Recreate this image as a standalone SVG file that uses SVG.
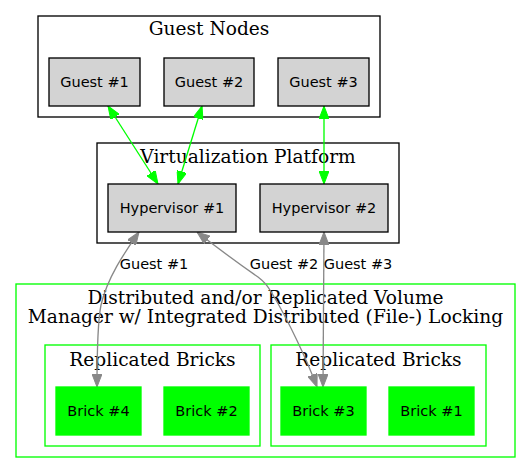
<svg xmlns="http://www.w3.org/2000/svg" width="531" height="473" viewBox="0 0 531 473">
<style>
.cl{fill:none;stroke:#000;stroke-width:1.33}
.clg{fill:none;stroke:#00ff00;stroke-width:1.33}
.ct{font-family:"DejaVu Serif",serif;font-size:18.6px;fill:#000;text-anchor:middle}
.n{fill:#d3d3d3;stroke:#000;stroke-width:1.33}
.b{fill:#00ff00;stroke:#00ff00;stroke-width:1.33}
.nt{font-family:"DejaVu Sans",sans-serif;font-size:14.5px;fill:#000;text-anchor:middle}
.eg{fill:none;stroke:#00ff00;stroke-width:1.33;marker-start:url(#ag);marker-end:url(#ag)}
.ey{fill:none;stroke:#888;stroke-width:1.33;marker-start:url(#ay);marker-end:url(#ay)}
</style>
<defs>
<marker id="ag" viewBox="0 0 13 10" refX="13" refY="5" markerWidth="13" markerHeight="10" markerUnits="userSpaceOnUse" orient="auto-start-reverse"><polygon points="0,0 13,5 0,10" fill="#00ff00" stroke="#00ff00"/></marker>
<marker id="ay" viewBox="0 0 13 10" refX="13" refY="5" markerWidth="13" markerHeight="10" markerUnits="userSpaceOnUse" orient="auto-start-reverse"><polygon points="0,0 13,5 0,10" fill="#888" stroke="#888"/></marker>
</defs>
<rect width="531" height="473" fill="#fff"/>
<g id="cluster_guests">
<rect class="cl" x="38" y="16" width="342" height="101"/>
<text class="ct" x="209" y="35">Guest Nodes</text>
</g>
<g id="cluster_virt">
<rect class="cl" x="97" y="143" width="302" height="100"/>
<text class="ct" x="248" y="163">Virtualization Platform</text>
</g>
<g id="cluster_volume">
<rect class="clg" x="16" y="284" width="499" height="173"/>
<text class="ct" x="265.5" y="304">Distributed and/or Replicated Volume</text>
<text class="ct" x="265.5" y="323">Manager w/ Integrated Distributed (File-) Locking</text>
</g>
<g id="cluster_rep1">
<rect class="clg" x="45" y="345" width="215" height="101"/>
<text class="ct" x="152.5" y="366">Replicated Bricks</text>
</g>
<g id="cluster_rep2">
<rect class="clg" x="271" y="345" width="215" height="101"/>
<text class="ct" x="378.5" y="366">Replicated Bricks</text>
</g>
<g id="connectors">
<path class="eg" d="M108,106 L158,184"/>
<path class="eg" d="M202,106 L178,184"/>
<path class="eg" d="M324,106 L324,184"/>
<path class="ey" d="M139,232 C128,248 108,275 101,305 C97,325 97,360 97,387"/>
<path class="ey" d="M197,232 C215,246 245,268 258,277 C266,283 268,287 273,295 C288,320 307,360 317,387"/>
<path class="ey" d="M324,232 L323,387"/>
<text class="nt" x="154" y="269">Guest #1</text>
<text class="nt" x="284" y="269">Guest #2</text>
<text class="nt" x="358" y="269">Guest #3</text>
</g>
<g id="guest1"><rect class="n" x="49" y="58" width="91" height="48"/><text class="nt" x="94.5" y="87">Guest #1</text></g>
<g id="guest2"><rect class="n" x="164" y="58" width="90" height="48"/><text class="nt" x="209" y="87">Guest #2</text></g>
<g id="guest3"><rect class="n" x="278" y="58" width="91" height="48"/><text class="nt" x="323.5" y="87">Guest #3</text></g>
<g id="hyper1"><rect class="n" x="108" y="184" width="128" height="48"/><text class="nt" x="172" y="213">Hypervisor #1</text></g>
<g id="hyper2"><rect class="n" x="260" y="184" width="128" height="48"/><text class="nt" x="324" y="213">Hypervisor #2</text></g>
<g id="brick4"><rect class="b" x="56" y="387" width="85" height="48"/><text class="nt" x="98.5" y="416">Brick #4</text></g>
<g id="brick2"><rect class="b" x="164" y="387" width="85" height="48"/><text class="nt" x="206.5" y="416">Brick #2</text></g>
<g id="brick3"><rect class="b" x="281" y="387" width="85" height="48"/><text class="nt" x="323.5" y="416">Brick #3</text></g>
<g id="brick1"><rect class="b" x="389" y="387" width="85" height="48"/><text class="nt" x="431.5" y="416">Brick #1</text></g>
</svg>
